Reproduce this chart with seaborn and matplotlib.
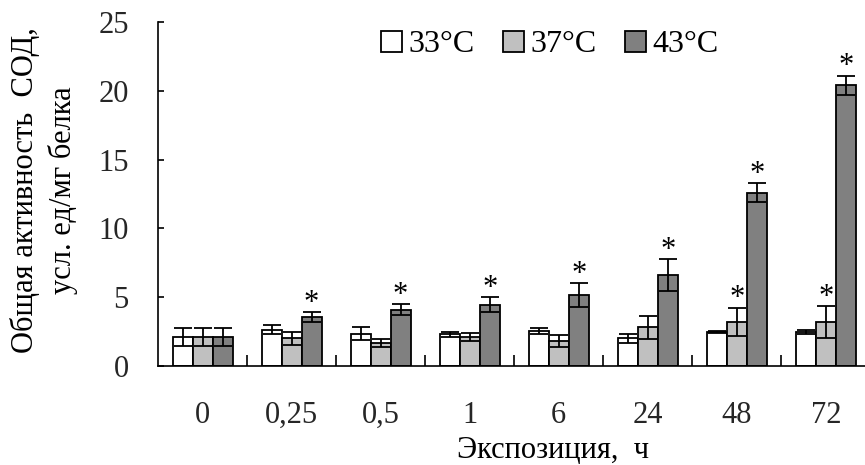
import matplotlib
matplotlib.use("Agg")
import matplotlib.pyplot as plt
import matplotlib.patches as mpatches
from matplotlib.ticker import FixedLocator
import seaborn as sns
import pandas as pd
import numpy as np

# ---- data ----
categories = ['0', '0,25', '0,5', '1', '6', '24', '48', '72']
series = ['33°C', '37°C', '43°C']
v33 = [2.1, 2.65, 2.35, 2.3, 2.55, 2.0, 2.45, 2.45]
e33 = [0.65, 0.3, 0.45, 0.2, 0.2, 0.3, 0.07, 0.15]
v37 = [2.1, 2.0, 1.65, 2.1, 1.8, 2.8, 3.2, 3.2]
e37 = [0.65, 0.45, 0.3, 0.3, 0.45, 0.85, 1.05, 1.15]
v43 = [2.1, 3.55, 4.1, 4.45, 5.15, 6.6, 12.6, 20.4]
e43 = [0.65, 0.35, 0.4, 0.55, 0.85, 1.15, 0.7, 0.7]
sig33 = [False] * 8
sig37 = [False, False, False, False, False, False, True, True]
sig43 = [False, True, True, True, True, True, True, True]
colors = ['#ffffff', '#c0c0c0', '#808080']

values = [v33, v37, v43]
errors = [e33, e37, e43]
sigs = [sig33, sig37, sig43]

df = pd.DataFrame({
    'cat': [c for _ in series for c in categories],
    'temp': [s for s in series for _ in categories],
    'val': [v for vals in values for v in vals],
})

sns.set_theme(style='white')
plt.rcParams['font.family'] = ['Liberation Serif', 'DejaVu Serif']
plt.rcParams['text.color'] = 'black'

fig = plt.figure(figsize=(8.65, 4.65), dpi=100)
ax = fig.add_axes([158 / 865, 99 / 465, 1 - 158 / 865, 344 / 465])

sns.barplot(data=df, x='cat', y='val', hue='temp', order=categories,
            hue_order=series, palette=colors, saturation=1, errorbar=None,
            width=0.674, gap=0, edgecolor='black', linewidth=1.3,
            legend=False, ax=ax)

for cont, errs, sg in zip(ax.containers, errors, sigs):
    for bar, err, s in zip(cont.patches, errs, sg):
        bar.set_zorder(2)
        xc = bar.get_x() + bar.get_width() / 2
        h = bar.get_height()
        eb = ax.errorbar(xc, h, yerr=err, fmt='none', ecolor='black',
                         elinewidth=1.3, capsize=6.5, capthick=1.3)
        for art in eb.lines[1]:
            art.set_zorder(10)
        for art in eb.lines[2]:
            art.set_zorder(10)
        if s:
            ax.annotate('*', xy=(xc, h + err), xytext=(0, 1),
                        textcoords='offset points', ha='center',
                        va='baseline', fontsize=22, color='black', zorder=11)

ax.set_xlim(-0.5, 7.44)
ax.set_ylim(0, 25)
ax.set_yticks([0, 5, 10, 15, 20, 25])
ax.set_xlabel('')
ax.set_ylabel('')

for sp in ['top', 'right']:
    ax.spines[sp].set_visible(False)
for sp in ['left', 'bottom']:
    ax.spines[sp].set_color('black')
    ax.spines[sp].set_linewidth(1.2)
    ax.spines[sp].set_zorder(12)

ax.tick_params(axis='y', which='major', direction='in', length=4,
               width=1.2, color='black', labelsize=22, pad=21, left=True)
ax.tick_params(axis='x', which='major', length=0, labelsize=22, pad=25)
ax.xaxis.set_minor_locator(FixedLocator(np.arange(0.5, 7.0, 1.0)))
ax.tick_params(axis='x', which='minor', direction='in', length=8,
               width=1.2, color='black', bottom=True)

fig.text(44 / 865, 1 - 190 / 465, 'Общая активность  СОД,\nусл. ед/мг белка',
         rotation=90, ha='center', va='center', multialignment='center',
         fontsize=22, linespacing=1.35)
fig.text(553 / 865, 1 - 450 / 465, 'Экспозиция,  ч', ha='center',
         va='center', fontsize=22)

handles = [mpatches.Patch(facecolor=c, edgecolor='black', linewidth=1.3)
           for c in colors]
fig.legend(handles, series, loc='center',
           bbox_to_anchor=(550 / 865, 1 - 45 / 465), ncol=3, frameon=False,
           fontsize=23, handlelength=0.65, handleheight=0.65,
           handletextpad=0.2, columnspacing=0.9, borderpad=0)

fig.savefig('out.png', dpi=100)
